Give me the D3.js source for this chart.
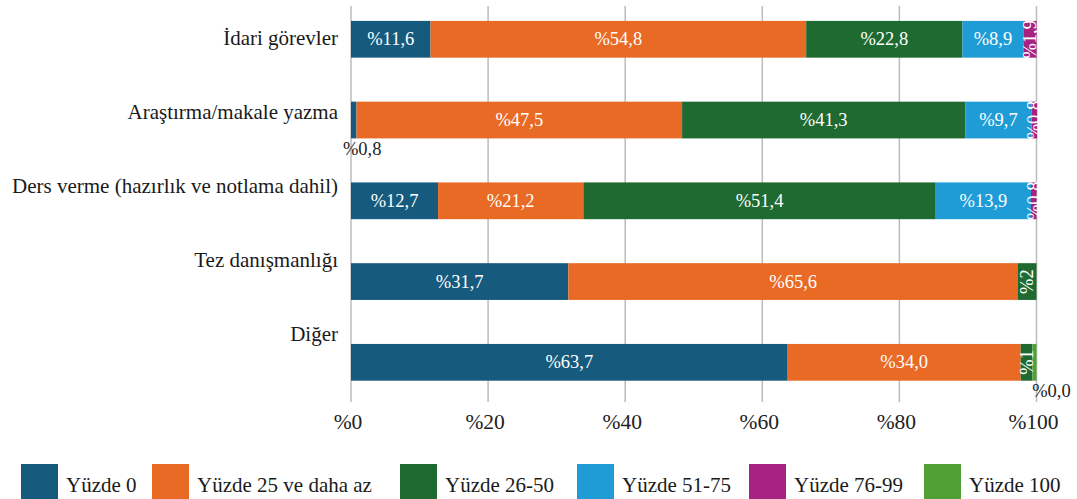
<!DOCTYPE html>
<html>
<head>
<meta charset="utf-8">
<script src="https://cdn.jsdelivr.net/npm/d3@7"></script>
<style>
  html, body { margin: 0; padding: 0; background: #fff; }
</style>
</head>
<body>
<svg id="chart" width="1077" height="499"></svg>
<script>
// ---- data ----
const categories = ["İdari görevler", "Araştırma/makale yazma", "Ders verme (hazırlık ve notlama dahil)", "Tez danışmanlığı", "Diğer"];
const seriesNames = ["Yüzde 0", "Yüzde 25 ve daha az", "Yüzde 26-50", "Yüzde 51-75", "Yüzde 76-99", "Yüzde 100"];
const yuzde0     = [11.6, 0.8, 12.7, 31.7, 63.7];
const yuzde25    = [54.8, 47.5, 21.2, 65.6, 34.0];
const yuzde26_50 = [22.8, 41.3, 51.4, 2.7, 1.7];
const yuzde51_75 = [8.9, 9.7, 13.9, 0, 0];
const yuzde76_99 = [1.9, 0.8, 0.8, 0, 0];
const yuzde100   = [0, 0, 0, 0, 0.6];
// label texts as printed in the source (a few differ from the rounded values)
const labelOverrides = { "3-2": "%2", "4-2": "%1", "4-5": "%0,0" };
const tickValues = [0, 20, 40, 60, 80, 100];
const colors = ["#165b7e", "#e86a25", "#1e6a30", "#1f9cd6", "#a62381", "#50a135"];

const seriesValues = [yuzde0, yuzde25, yuzde26_50, yuzde51_75, yuzde76_99, yuzde100];
const FONT = "'Liberation Serif', 'DejaVu Serif', serif";

// ---- layout ----
const svg = d3.select("#chart").attr("font-family", FONT).style("font-family", FONT);
const x = d3.scaleLinear().domain([0, 100]).range([351, 1036.5]);
const y = d3.scaleBand().domain(categories).range([-1.1, 402.7]).paddingInner(0.545).paddingOuter(0.2725);
const yLabel = d3.scalePoint().domain(categories).range([45, 341]);
const legendX = d3.scaleOrdinal().domain(seriesNames).range([21, 152, 400, 577, 749, 924]);

// gridlines
svg.append("g").selectAll("line").data(tickValues).join("line")
  .attr("x1", d => x(d)).attr("x2", d => x(d))
  .attr("y1", 6).attr("y2", 402)
  .attr("stroke", "#bcbcbc").attr("stroke-width", 1.5);

// stack
const rows = categories.map((c, i) => {
  const o = { cat: c };
  seriesNames.forEach((s, j) => o[s] = seriesValues[j][i]);
  return o;
});
const stacked = d3.stack().keys(seriesNames)(rows);

const fmt = v => "%" + d3.format(".1f")(v).replace(".", ",");

const layers = svg.append("g").selectAll("g").data(stacked).join("g")
  .attr("fill", (d, j) => colors[j]);

layers.selectAll("rect").data(d => d.filter(s => s[1] - s[0] > 0)).join("rect")
  .attr("x", d => x(d[0]))
  .attr("y", d => y(d.data.cat))
  .attr("width", d => x(d[1]) - x(d[0]))
  .attr("height", y.bandwidth());

// segment labels
const labelG = svg.append("g").attr("font-size", 18.5);
stacked.forEach((layer, j) => {
  layer.forEach((s, i) => {
    const v = s[1] - s[0];
    if (v <= 0) return;
    const key = i + "-" + j;
    const txt = labelOverrides[key] || fmt(seriesValues[j][i]);
    const cx = x((s[0] + s[1]) / 2);
    const cy = y(s.data.cat) + y.bandwidth() / 2;
    if (v >= 3) {
      labelG.append("text").attr("x", cx).attr("y", cy + 6)
        .attr("text-anchor", "middle").attr("fill", "#fff").text(txt);
    } else if (j === 0 || j === seriesNames.length - 1) {
      labelG.append("text")
        .attr("x", cx + (j === 0 ? 8.5 : 17)).attr("y", y(s.data.cat) + y.bandwidth() + 16.5)
        .attr("text-anchor", "middle").attr("fill", "#222").text(txt);
    } else {
      labelG.append("text")
        .attr("transform", `translate(${cx + 6},${cy}) rotate(-90)`)
        .attr("text-anchor", "middle").attr("fill", "#fff").text(txt);
    }
  });
});

// category labels
svg.append("g").selectAll("text").data(categories).join("text")
  .attr("x", 338).attr("y", d => yLabel(d))
  .attr("text-anchor", "end").attr("font-size", 21).attr("fill", "#1a1a1a")
  .text(d => d);

// x tick labels
svg.append("g").selectAll("text").data(tickValues).join("text")
  .attr("x", d => x(d) - 3).attr("y", 429)
  .attr("text-anchor", "middle").attr("font-size", 21.5).attr("fill", "#222")
  .text(d => "%" + d);

// legend
const legend = svg.append("g").attr("font-size", 21);
const items = legend.selectAll("g").data(seriesNames).join("g")
  .attr("transform", d => `translate(${legendX(d)},0)`);
items.append("rect").attr("x", 0).attr("y", 464).attr("width", 37).attr("height", 35)
  .attr("fill", (d, j) => colors[j]);
items.append("text").attr("x", 45).attr("y", 492).attr("fill", "#1a1a1a").text(d => d);
</script>
</body>
</html>
